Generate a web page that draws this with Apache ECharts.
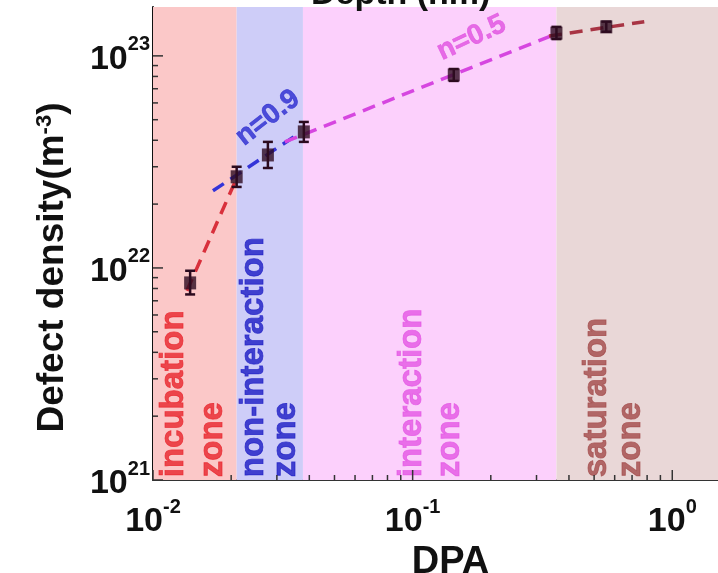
<!DOCTYPE html>
<html>
<head>
<meta charset="utf-8">
<script src="https://cdn.jsdelivr.net/npm/echarts@6/dist/echarts.min.js"></script>
<style>
html, body { margin: 0; padding: 0; background: #fff; }
#chart { width: 718px; height: 573px; }
</style>
</head>
<body>
<div id="chart"></div>
<script>
// measured points (DPA, defect density) with error bars
var dpa = [0.0139, 0.0210, 0.0277, 0.0381, 0.144, 0.358, 0.557];
var density = [8.5e21, 2.69e22, 3.41e22, 4.38e22, 8.13e22, 1.28e23, 1.37e23];
var densityLow = [7.5e21, 2.41e22, 2.96e22, 3.93e22, 7.62e22, 1.20e23, 1.30e23];
var densityHigh = [9.7e21, 3.0e22, 3.93e22, 4.88e22, 8.67e22, 1.37e23, 1.45e23];

// zones
var zoneNames = ['incubation', 'non-interaction', 'interaction', 'saturation'];
var zoneStart = [0.01, 0.021, 0.0378, 0.358];
var zoneEnd = [0.021, 0.0378, 0.358, 1.5];
var zoneColors = ['#fbc8c8', '#cecdf8', '#fcd0fc', '#e9d7d7'];
var zoneTextColors = ['#e8242c', '#1c1cc4', '#e455e4', '#a34a4a'];
var zoneLabelX = [0.01205, 0.02445, 0.0991, 0.5105];
var zoneWordX = [0.01702, 0.03248, 0.1387, 0.6956];
var zoneLabelY = 1.03e21;

// dashed guide lines
var incubationFit = [[0.0135, 7.8e21], [0.0212, 2.72e22]];
var fit09 = [[0.01702, 2.31e22], [0.03675, 4.33e22]];
var fit05 = [[0.0322, 3.93e22], [0.345, 1.25e23]];
var saturationFit = [[0.335, 1.24e23], [0.78, 1.45e23]];
var fitLabels = ['n=0.9', 'n=0.5'];
var fitLabelPos = [[0.0277, 5.1e22], [0.1686, 1.216e23]];
var fitLabelRotate = [38, 25];
var fitLabelColors = ['#2a2ad0', '#e050e0'];

// axes
var xMin = 0.01, xMax = 1.5;
var yMin = 1e21, yMax = 1.7e23;
var xTickValues = [0.01, 0.1, 1];
var xTickLabels = ['-2', '-1', '0'];
var yTickValues = [1e21, 1e22, 1e23];
var yTickLabels = ['21', '22', '23'];
var xMinorTicks = [0.02, 0.03, 0.04, 0.05, 0.06, 0.07, 0.08, 0.09,
                   0.2, 0.3, 0.4, 0.5, 0.6, 0.7, 0.8, 0.9];
var yMinorTicks = [2e21, 3e21, 4e21, 5e21, 6e21, 7e21, 8e21, 9e21,
                   2e22, 3e22, 4e22, 5e22, 6e22, 7e22, 8e22, 9e22];

var FONT = 'Liberation Sans, Arial, sans-serif';

function powLabel(values, labels) {
    return function (v) {
        for (var i = 0; i < values.length; i++) {
            if (Math.abs(Math.log10(v) - Math.log10(values[i])) < 1e-6) {
                return '{b|10}{s|' + labels[i] + '}';
            }
        }
        return '';
    };
}

var tickRich = {
    b: { fontSize: 34, fontWeight: 'bold', fontFamily: FONT, color: '#111', lineHeight: 42, verticalAlign: 'bottom' },
    s: { fontSize: 20, fontWeight: 'bold', fontFamily: FONT, color: '#111', lineHeight: 20, verticalAlign: 'top' }
};

var chart = echarts.init(document.getElementById('chart'));

var tickData = [];
xTickValues.forEach(function (v) { tickData.push([v, yMin, 0, 10]); });
xMinorTicks.forEach(function (v) { tickData.push([v, yMin, 0, 5]); });
yTickValues.forEach(function (v) { tickData.push([xMin, v, 1, 10]); });
yMinorTicks.forEach(function (v) { tickData.push([xMin, v, 1, 5]); });

var zoneLabelData = [];
zoneNames.forEach(function (name, i) {
    var lab = { color: zoneTextColors[i], textBorderColor: zoneTextColors[i], textBorderWidth: 0.8 };
    zoneLabelData.push({ value: [zoneLabelX[i], zoneLabelY], name: name, label: lab });
    zoneLabelData.push({ value: [zoneWordX[i], zoneLabelY], name: 'zone', label: lab });
});

var fitLabelData = fitLabels.map(function (t, i) {
    return { value: fitLabelPos[i], name: t,
        label: { color: fitLabelColors[i], rotate: fitLabelRotate[i], fontSize: 28, fontWeight: 'bold', fontFamily: FONT,
                 textBorderColor: fitLabelColors[i], textBorderWidth: 0.6 } };
});

function dashed(data, color) {
    return {
        type: 'line', data: data, symbol: 'none', z: 3, silent: true,
        lineStyle: { color: color, width: 3.5, type: [13, 8] }
    };
}

var option = {
    backgroundColor: '#fff',
    animation: false,
    title: {
        text: 'Depth (nm)', left: 306, top: -27,
        textStyle: { fontSize: 34, fontWeight: 'bold', fontFamily: FONT, color: '#111' }
    },
    grid: { left: 153, right: 0, top: 7, bottom: 93, containLabel: false, outerBoundsMode: 'none' },
    xAxis: {
        type: 'log', min: xMin, max: xMax,
        name: 'DPA', nameLocation: 'middle', nameGap: 54,
        nameTextStyle: { fontSize: 38, fontWeight: 'bold', fontFamily: FONT, color: '#111', padding: [0, 0, 0, 30] },
        axisLine: { lineStyle: { color: '#333', width: 2 } },
        axisTick: { show: false },
        splitLine: { show: false },
        axisLabel: { margin: 17, formatter: powLabel(xTickValues, xTickLabels), rich: tickRich, showMaxLabel: false }
    },
    yAxis: {
        type: 'log', min: yMin, max: yMax,
        name: 'Defect density(m{s|-3})', nameLocation: 'middle', nameGap: 82,
        nameTextStyle: {
            fontSize: 37, fontWeight: 'bold', fontFamily: FONT, color: '#111', padding: [0, 48, 0, 0],
            rich: { s: { fontSize: 22, fontWeight: 'bold', fontFamily: FONT, color: '#111', verticalAlign: 'top' } }
        },
        axisLine: { lineStyle: { color: '#111', width: 2 } },
        axisTick: { show: false },
        splitLine: { show: false },
        axisLabel: { margin: 3, formatter: powLabel(yTickValues, yTickLabels), rich: tickRich, showMaxLabel: false }
    },
    series: [
        {
            type: 'line', data: [], silent: true, z: 0,
            markArea: {
                silent: true,
                data: zoneNames.map(function (n, i) {
                    return [{ xAxis: zoneStart[i], itemStyle: { color: zoneColors[i] } }, { xAxis: zoneEnd[i] }];
                })
            }
        },
        {
            type: 'scatter', data: zoneLabelData, symbolSize: 0, silent: true, z: 2,
            label: {
                show: true, formatter: '{b}', position: [0, 0], rotate: 90,
                align: 'left', verticalAlign: 'middle',
                fontSize: 33, fontWeight: 'bold', fontFamily: FONT
            }
        },
        dashed(incubationFit, '#d8303c'),
        dashed(fit09, '#3434d8'),
        dashed(fit05, '#d646e0'),
        dashed(saturationFit, '#a83444'),
        {
            type: 'scatter', data: fitLabelData, symbolSize: 0, silent: true, z: 4,
            label: {
                show: true, formatter: '{b}', position: [0, 0],
                align: 'center', verticalAlign: 'middle'
            }
        },
        {
            type: 'custom', z: 5, silent: true,
            data: dpa.map(function (x, i) { return [x, densityLow[i], densityHigh[i]]; }),
            renderItem: function (params, api) {
                var lo = api.coord([api.value(0), api.value(1)]);
                var hi = api.coord([api.value(0), api.value(2)]);
                var st = { stroke: '#2a0a1e', lineWidth: 2.5 };
                return {
                    type: 'group', children: [
                        { type: 'line', shape: { x1: lo[0], y1: lo[1], x2: hi[0], y2: hi[1] }, style: st },
                        { type: 'line', shape: { x1: lo[0] - 5, y1: lo[1], x2: lo[0] + 5, y2: lo[1] }, style: st },
                        { type: 'line', shape: { x1: hi[0] - 5, y1: hi[1], x2: hi[0] + 5, y2: hi[1] }, style: st }
                    ]
                };
            }
        },
        {
            type: 'scatter', z: 6, silent: true,
            data: dpa.map(function (x, i) { return [x, density[i]]; }),
            symbol: 'rect', symbolSize: [12, 13],
            itemStyle: { color: '#2e0b20' }
        },
        {
            type: 'custom', z: 7, silent: true, clip: false,
            data: tickData,
            renderItem: function (params, api) {
                var p = api.coord([api.value(0), api.value(1)]);
                var len = api.value(3);
                var shape = api.value(2) === 0
                    ? { x1: p[0], y1: p[1], x2: p[0], y2: p[1] - len }
                    : { x1: p[0], y1: p[1], x2: p[0] + len, y2: p[1] };
                return { type: 'line', shape: shape, style: { stroke: '#333', lineWidth: 1.5 } };
            }
        }
    ]
};

chart.setOption(option);
</script>
</body>
</html>
